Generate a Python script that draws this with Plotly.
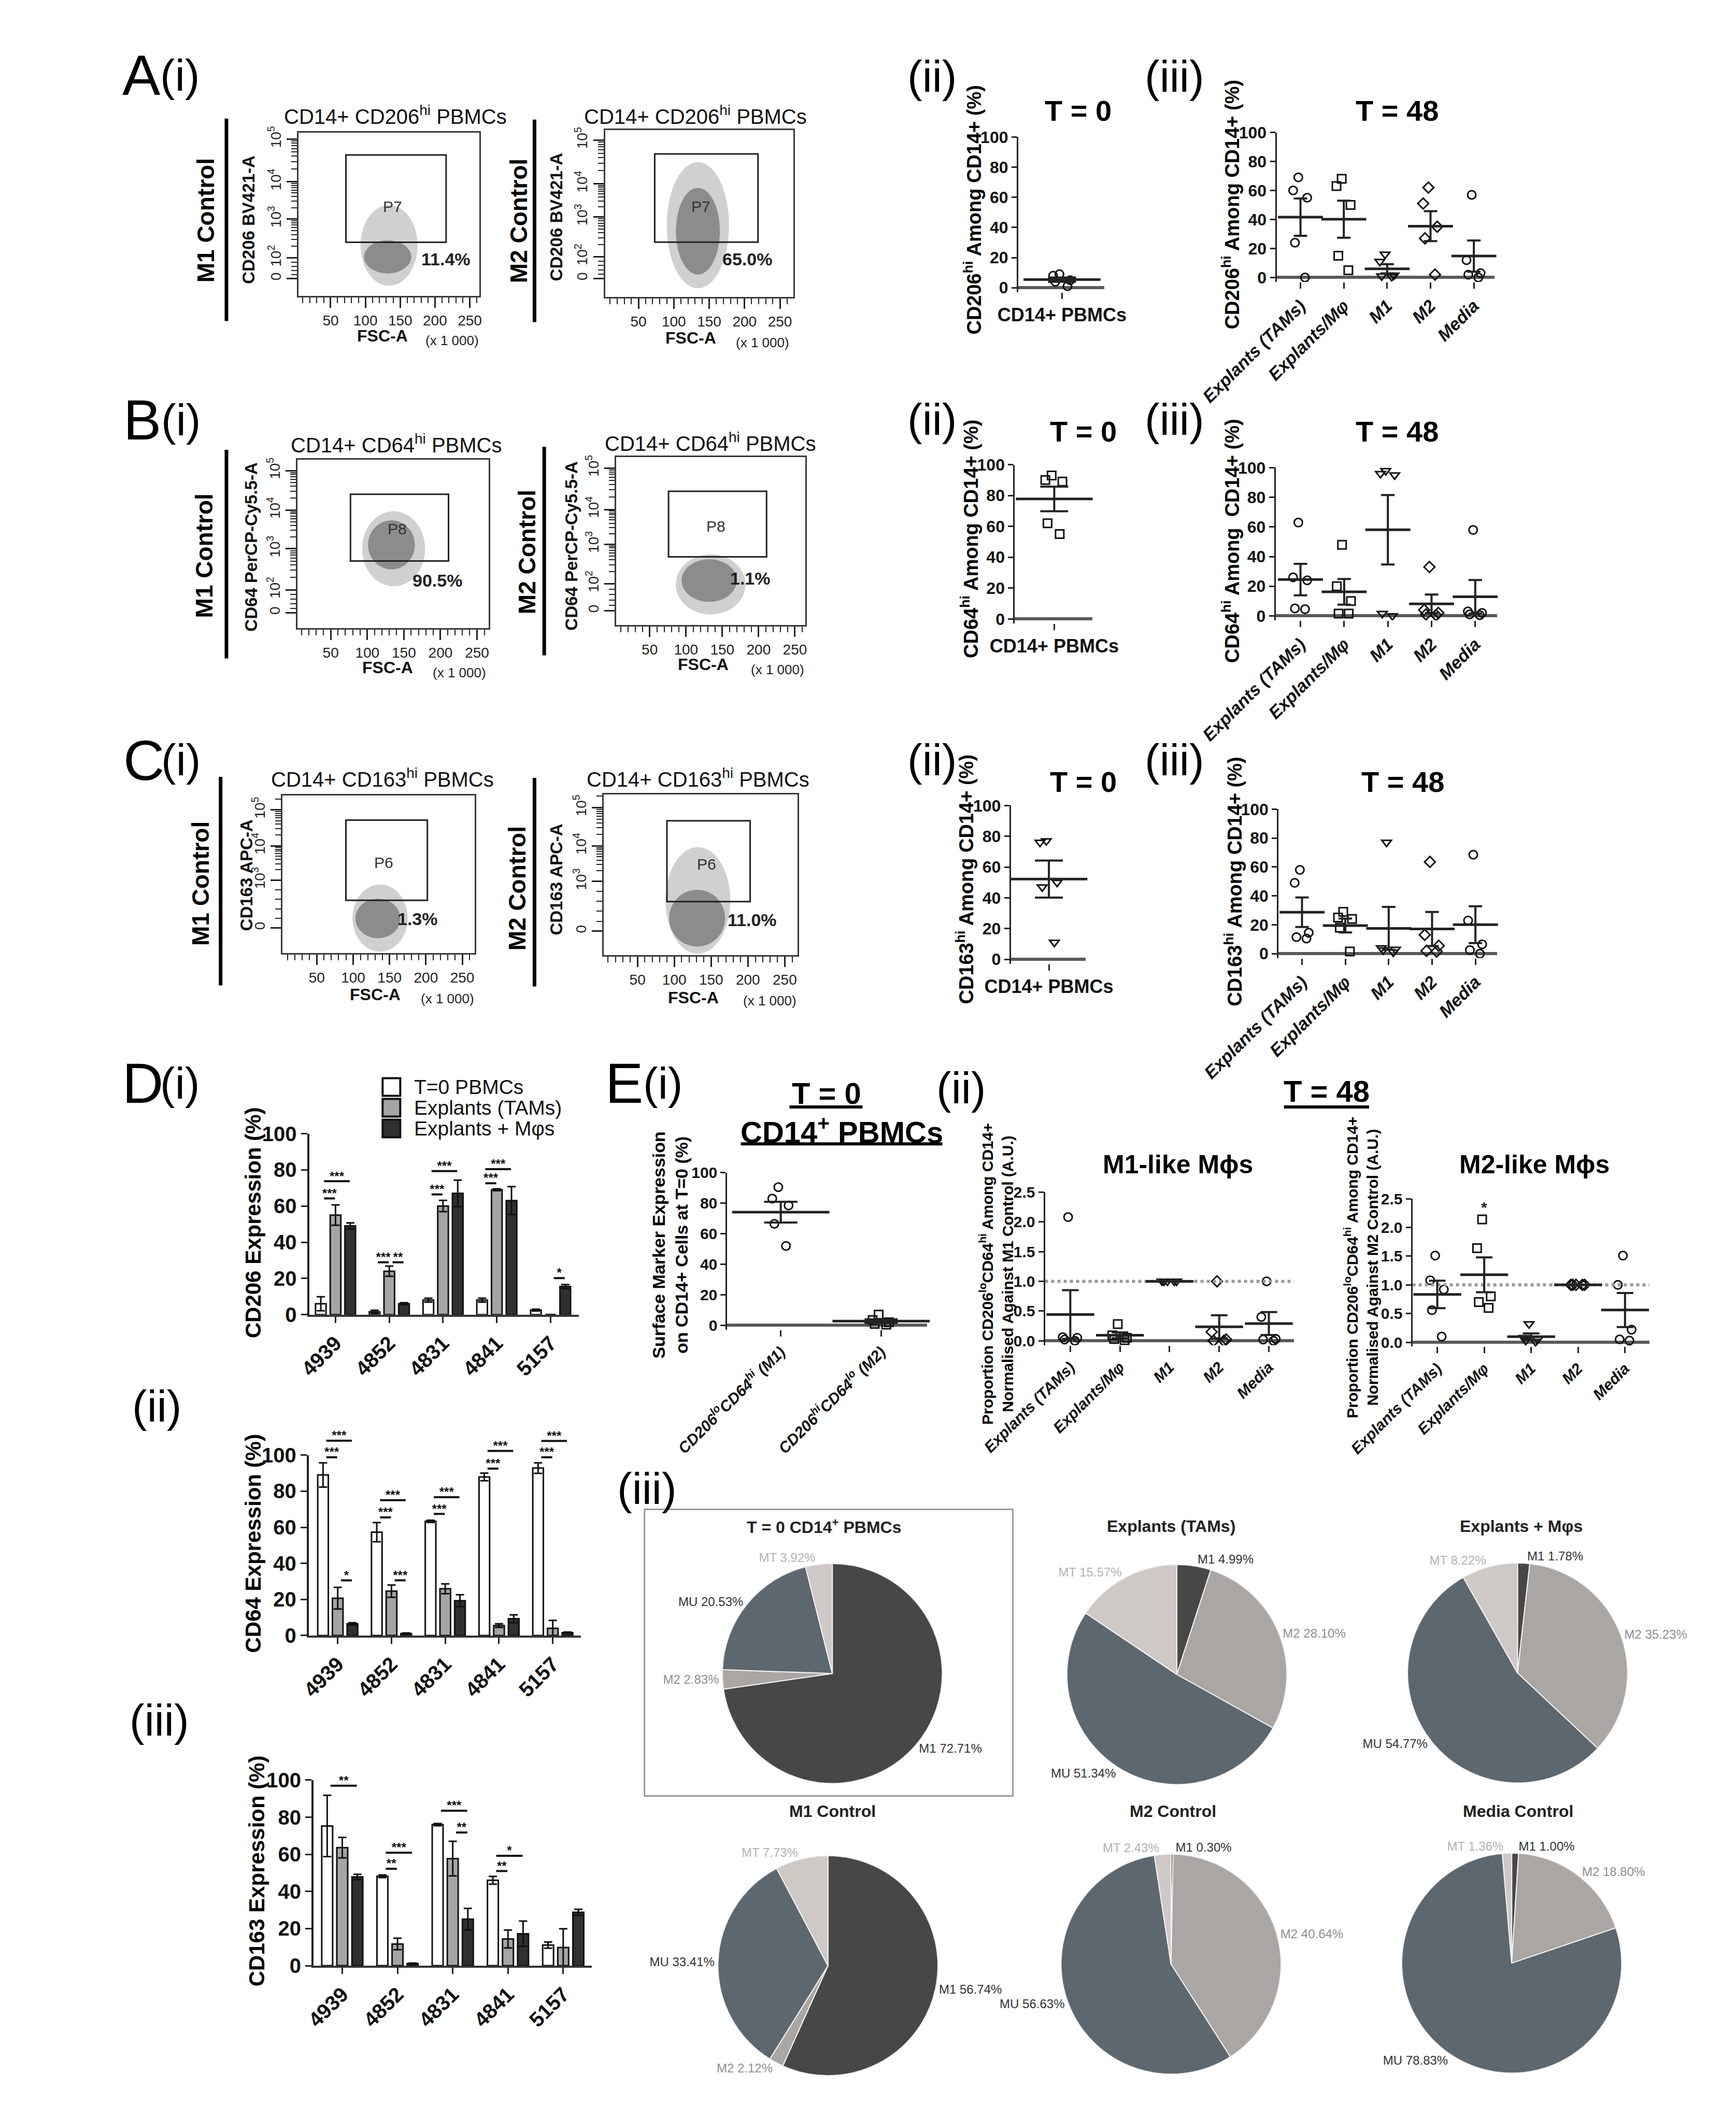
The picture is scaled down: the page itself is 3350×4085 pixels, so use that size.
import numpy as np
import plotly.graph_objects as go

W, H = 3350, 4085
F = "Liberation Sans, Arial, Helvetica, sans-serif"

# ============================ DATA ============================
# --- A-C (i): flow cytometry plots (y in display units of the biexponential axis)
FLOW_TITLES = ["CD14+ CD206<sup>hi</sup> PBMCs"] * 2 + ["CD14+ CD64<sup>hi</sup> PBMCs"] * 2 + ["CD14+ CD163<sup>hi</sup> PBMCs"] * 2
FLOW_CHANNELS = ["CD206 BV421-A"] * 2 + ["CD64 PerCP-Cy5.5-A"] * 2 + ["CD163 APC-A"] * 2
FLOW_CONTROLS = ["M1 Control", "M2 Control"] * 3
FLOW_GATE_NAMES = ["P7", "P7", "P8", "P8", "P6", "P6"]
FLOW_GATE_PCT = ["11.4%", "65.0%", "90.5%", "1.1%", "1.3%", "11.0%"]
FLOW_GATE_X0 = [72, 73, 77, 76, 90, 90]
FLOW_GATE_X1 = [216, 219, 211, 211, 202, 203]
FLOW_GATE_Y0 = [0.92, 0.92, 1.31, 1.37, 0.70, 0.75]
FLOW_GATE_Y1 = [3.13, 3.16, 3.00, 3.03, 2.73, 2.80]
FLOW_CORE_CX = [132, 134, 133, 132, 134, 131]
FLOW_CORE_CY = [0.55, 1.20, 1.72, 0.77, 0.24, 0.33]
FLOW_CORE_RX = [34, 31, 32, 38, 31, 38]
FLOW_CORE_RY = [0.42, 1.10, 0.62, 0.54, 0.50, 0.72]
FLOW_HALO_CX = [134, 134, 136, 134, 137, 132]
FLOW_HALO_CY = [0.84, 1.35, 1.62, 0.67, 0.25, 0.78]
FLOW_HALO_RX = [41, 44, 43, 48, 38, 44]
FLOW_HALO_RY = [1.02, 1.60, 0.95, 0.76, 0.85, 1.35]
FLOW_XTICKS = [50, 100, 150, 200, 250]
FLOW_YTICKVALS = [[0, 0.52, 1.51, 2.45, 3.53], [0, 0.55, 1.56, 2.40, 3.51],
                  [0, 0.58, 1.62, 2.60, 3.60], [0, 0.69, 1.69, 2.57, 3.62],
                  [0, 1.21, 2.08, 2.99], [0, 1.26, 2.16, 3.13]]
FLOW_YTICKTEXT_5 = ["0", "10<sup>2</sup>", "10<sup>3</sup>", "10<sup>4</sup>", "10<sup>5</sup>"]
FLOW_YTICKTEXT_4 = ["0", "10<sup>3</sup>", "10<sup>4</sup>", "10<sup>5</sup>"]

# --- A-C (ii): T = 0 CD14+ PBMCs (% hi among CD14+)
T0_CATEGORY = ["CD14+ PBMCs"]
T0_CD206 = [9, 8, 5, 4, 1]
T0_CD64 = [93, 90, 89, 62, 55]
T0_CD163 = [77, 76, 50, 47, 11]

# --- A-C (iii): T = 48
T48_CATEGORIES = ["Explants (TAMs)", "Explants/M\u03c6", "M1", "M2", "Media"]
T48_CD206 = [[69, 60, 55, 24, 0], [68, 63, 50, 15, 5], [16, 11, 1.5, 1, 0.5], [62, 51, 35, 27, 2], [57, 12, 3, 2, 0]]
T48_CD64 = [[63, 26, 24, 5, 4.5], [48, 20, 10, 1.5, 1.5], [98, 96, 95, 1.5, 0], [33, 4, 2, 1, 0.5], [58, 3, 2, 1, 0.5]]
T48_CD163 = [[58, 49, 14.5, 11.5, 10.5], [29, 25, 24, 18, 1.5], [77, 4, 3, 2.5, 1], [63.5, 13, 5.5, 2, 1.5], [68.5, 23, 6.5, 2.5, 0]]

# --- D: bar charts per patient
PATIENTS = ["4939", "4852", "4831", "4841", "5157"]
BAR_SERIES = ["T=0 PBMCs", "Explants (TAMs)", "Explants + M\u03c6s"]
CD206_MEAN = [[6, 1.5, 8, 8, 2.5], [55, 24, 60, 69, 0], [49, 6, 67, 63, 15.5]]
CD206_ERR = [[3.9, 0.9, 1.1, 1.1, 0.5], [5.6, 2.8, 3.1, 0.5, 0], [1.7, 0.6, 7.3, 7.7, 1.1]]
CD64_MEAN = [[89, 57.3, 63.3, 87.9, 92.8], [20.7, 24.6, 25.9, 5.5, 4.0], [6.5, 1.1, 19.3, 9.3, 1.6]]
CD64_ERR = [[6.7, 5.3, 0.6, 2.1, 2.9], [6.0, 3.4, 2.7, 1.0, 4.4], [0.6, 0.3, 3.3, 2.2, 0.3]]
CD163_MEAN = [[75.3, 48.2, 76, 46, 11.1], [63.6, 11.7, 57.7, 14.4, 9.8], [47.8, 1.1, 25.1, 17.2, 28.8]]
CD163_ERR = [[16.5, 0.7, 0.6, 2.1, 1.7], [5.5, 3.1, 9.3, 4.8, 10.1], [1.4, 0.3, 5.8, 6.8, 1.6]]
# significance: (patient index, bar i, bar j, height, stars)
CD206_SIG = [(0, 0, 1, 64.2, "***"), (0, 0, 2, 73.7, "***"), (1, 0, 1, 28.9, "***"), (1, 1, 2, 28.9, "**"),
             (2, 0, 1, 66.4, "***"), (2, 0, 2, 79.3, "***"), (3, 0, 1, 72.6, "***"), (3, 0, 2, 80.4, "***"),
             (4, 1, 2, 20.2, "*")]
CD64_SIG = [(0, 0, 1, 98.8, "***"), (0, 0, 2, 108, "***"), (0, 1, 2, 30.6, "*"), (1, 0, 1, 65.5, "***"),
            (1, 0, 2, 75, "***"), (1, 1, 2, 30.6, "***"), (2, 0, 1, 67.4, "***"), (2, 0, 2, 76.7, "***"),
            (3, 0, 1, 92.5, "***"), (3, 0, 2, 102.3, "***"), (4, 0, 1, 98.8, "***"), (4, 0, 2, 107.8, "***")]
CD163_SIG = [(0, 0, 2, 97, "**"), (1, 0, 1, 52.2, "**"), (1, 0, 2, 60.9, "***"), (2, 0, 2, 83.5, "***"),
             (2, 1, 2, 71.8, "**"), (3, 0, 1, 51, "**"), (3, 0, 2, 59.2, "*")]

# --- E(i): T = 0 surface marker expression
E1_CATEGORIES = ["CD206<sup>lo</sup>CD64<sup>hi</sup> (M1)", "CD206<sup>hi</sup>CD64<sup>lo</sup> (M2)"]
E1_VALUES = [[90.5, 83, 78.5, 66.5, 52], [7, 3.5, 2, 1, 0.5]]

# --- E(ii): normalised proportions at T = 48
E2_M1LIKE = [[2.08, 0.06, 0.05, 0.02, 0.0], [0.28, 0.09, 0.05, 0.03, 0.01], [1, 1, 1, 1, 1],
             [1.0, 0.15, 0.02, 0.0, 0.0], [1.0, 0.4, 0.03, 0.02, 0.0]]
E2_M2LIKE = [[1.51, 1.08, 0.92, 0.56, 0.1], [2.14, 1.64, 0.8, 0.7, 0.6], [0.32, 0.08, 0.05, 0.03, 0.01],
             [1, 1, 1, 1, 1], [1.51, 1.0, 0.22, 0.05, 0.03]]
E2_REFERENCE = 1.0
E2_M2LIKE_STAR = (1, 2.35, "*")

# --- E(iii): pies
PIE_TITLES = ["T = 0 CD14<sup>+</sup> PBMCs", "Explants (TAMs)", "Explants + M\u03c6s",
              "M1 Control", "M2 Control", "Media Control"]
PIE_LABELS = ["M1", "M2", "MU", "MT"]
PIE_VALUES = [[72.71, 2.83, 20.53, 3.92], [4.99, 28.10, 51.34, 15.57], [1.78, 35.23, 54.77, 8.22],
              [56.74, 2.12, 33.41, 7.73], [0.30, 40.64, 56.63, 2.43], [1.00, 18.80, 78.83, 1.36]]

# ============================ STYLE / LAYOUT ============================
FLOW_FRAME_PX = [(444, 816, 228, 547), (1074, 1461, 223, 549), (442, 835, 866, 1195),
                 (1097, 1485, 861, 1189), (411, 806, 1521, 1829), (1071, 1469, 1519, 1833)]
FLOW_XRANGE = [(3.8, 264), (2.8, 269), (4.6, 266), (4, 264), (2.7, 267), (4, 267)]
FLOW_YRANGE = [(-0.44, 3.70), (-0.47, 3.77), (-0.39, 3.88), (-0.36, 3.90), (-0.64, 3.36), (-0.61, 3.47)]
FLOW_TITLE_PX = [(643, 194), (1260, 194), (645, 835), (1291, 832), (617, 1487), (1265, 1487)]
FLOW_CTRL_PX = [(253, 400), (896, 400), (250, 1054), (913, 1046), (243, 1693), (893, 1703)]
FLOW_LINE_PX = [(296, 201, 596), (929, 203, 598), (296, 847, 1254), (949, 841, 1248), (284, 1485, 1892), (929, 1487, 1894)]
FLOW_CHAN_PX = [(342, 398), (974, 393), (347, 1037), (1005, 1035), (337, 1677), (974, 1685)]
FLOW_FSC_PX = [(617, 625), (1250, 629), (627, 1272), (1276, 1266), (602, 1910), (1255, 1916)]
FLOW_K_PX = [(760, 634), (1398, 638), (775, 1282), (1429, 1276), (750, 1918), (1413, 1922)]
FLOW_PLABEL_POS = [(139, 1.82), (138, 1.82), (141, 2.13), (141, 2.15), (142, 1.65), (144, 1.7)]
FLOW_PCT_POS = [(216, 0.49), (204, 0.49), (196, 0.82), (189, 0.82), (189, 0.23), (206, 0.28)]

BAR_COLORS = ["#ffffff", "#a5a5a5", "#303030"]
BARGAP, BARGROUPGAP = 0.18, 0.28
SIG_YMAX = 118
STAR_DY = 2.2
PIE_COLORS = ["#474747", "#aaa6a4", "#5d676f", "#cec9c7"]
PIE_TEXT_COLORS = ["#333333", "#8f8f8f", "#333333", "#b3b3b3"]
PIE_CENTERS = [(1541, 3234), (2249, 3236), (2949, 3233), (1532, 3804), (2237, 3801), (2937, 3799)]
PIE_R = 226
PIE_TITLE_PX = [(1524, 2947), (2237, 2947), (2957, 2947), (1541, 3503), (2241, 3503), (2950, 3503)]
HIDDEN_AXIS = dict(showticklabels=False, showline=False, ticks="", showgrid=False, zeroline=False)

traces, shapes, annots = [], [], []
lay = {}


def xr(n):
    return "x" if n == 1 else f"x{n}"


def yr(n):
    return "y" if n == 1 else f"y{n}"


def set_axes(n, xpx, ypx, xkw, ykw):
    xa = dict(domain=[xpx[0] / W, xpx[1] / W], anchor=yr(n), showgrid=False, zeroline=False)
    xa.update(xkw)
    ya = dict(domain=[1 - ypx[1] / H, 1 - ypx[0] / H], anchor=xr(n), showgrid=False, zeroline=False)
    ya.update(ykw)
    lay["xaxis" if n == 1 else f"xaxis{n}"] = xa
    lay["yaxis" if n == 1 else f"yaxis{n}"] = ya


def txt(s, x, y, size, color="black", angle=0, xanchor="center", yanchor="middle", family=F):
    annots.append(dict(text=s, x=x / W, y=1 - y / H, xref="paper", yref="paper", showarrow=False,
                       font=dict(family=family, size=size, color=color), textangle=angle,
                       xanchor=xanchor, yanchor=yanchor))


def pline(x0, y0, x1, y1, width, color="black"):
    shapes.append(dict(type="line", xref="paper", yref="paper", x0=x0 / W, x1=x1 / W,
                       y0=1 - y0 / H, y1=1 - y1 / H, line=dict(color=color, width=width)))


def panel_label(letter, roman, x, y):
    if letter:
        txt(letter, x, y, 110, xanchor="left")
        txt(roman, x + 78, y, 86, xanchor="left")
    else:
        txt(roman, x, y, 86, xanchor="left")


def log_minor(tv, top):
    out = []
    for k in range(1, 5):
        out.append(tv[0] + k * (tv[1] - tv[0]) / 5)
    for d in range(1, len(tv) - 1):
        a, b = tv[d], tv[d + 1]
        out += [a + np.log10(m) * (b - a) for m in range(2, 10)]
    step = tv[-1] - tv[-2]
    out += [tv[-1] + np.log10(m) * step for m in range(2, 10) if tv[-1] + np.log10(m) * step < top]
    return out


# ---------------- flow plots ----------------
for k in range(6):
    n = k + 1
    l, r, t, b = FLOW_FRAME_PX[k]
    yt = FLOW_YTICKVALS[k]
    ytt = FLOW_YTICKTEXT_5 if len(yt) == 5 else FLOW_YTICKTEXT_4
    set_axes(n, (l, r), (t, b),
             dict(range=list(FLOW_XRANGE[k]), tickvals=FLOW_XTICKS, ticks="outside", ticklen=20, tickwidth=3,
                  tickcolor="#222", showline=True, mirror=True, linecolor="#3a3a3a", linewidth=3,
                  minor=dict(tickmode="linear", tick0=0, dtick=10, ticks="outside", ticklen=11, tickwidth=2,
                             tickcolor="#222"),
                  tickfont=dict(family=F, size=28, color="#222")),
             dict(range=list(FLOW_YRANGE[k]), tickvals=yt, ticktext=ytt, tickangle=-90, ticks="outside",
                  ticklen=20, tickwidth=3, tickcolor="#222", showline=True, mirror=True, linecolor="#3a3a3a",
                  linewidth=3,
                  minor=dict(tickmode="array", tickvals=log_minor(yt, FLOW_YRANGE[k][1]), ticks="outside",
                             ticklen=11, tickwidth=2, tickcolor="#222"),
                  tickfont=dict(family=F, size=28, color="#222")))
    traces.append(go.Scatter(x=[], y=[], xaxis=xr(n), yaxis=yr(n), showlegend=False, hoverinfo="skip"))
    shapes.append(dict(type="circle", xref=xr(n), yref=yr(n), layer="below",
                       x0=FLOW_HALO_CX[k] - FLOW_HALO_RX[k], x1=FLOW_HALO_CX[k] + FLOW_HALO_RX[k],
                       y0=FLOW_HALO_CY[k] - FLOW_HALO_RY[k], y1=FLOW_HALO_CY[k] + FLOW_HALO_RY[k],
                       fillcolor="rgba(150,150,150,0.45)", line=dict(width=0)))
    shapes.append(dict(type="circle", xref=xr(n), yref=yr(n), layer="below",
                       x0=FLOW_CORE_CX[k] - FLOW_CORE_RX[k], x1=FLOW_CORE_CX[k] + FLOW_CORE_RX[k],
                       y0=FLOW_CORE_CY[k] - FLOW_CORE_RY[k], y1=FLOW_CORE_CY[k] + FLOW_CORE_RY[k],
                       fillcolor="#8c8c8c", line=dict(width=0)))
    shapes.append(dict(type="rect", xref=xr(n), yref=yr(n), x0=FLOW_GATE_X0[k], x1=FLOW_GATE_X1[k],
                       y0=FLOW_GATE_Y0[k], y1=FLOW_GATE_Y1[k], line=dict(color="#222", width=3)))
    px_, py_ = FLOW_PLABEL_POS[k]
    annots.append(dict(text=FLOW_GATE_NAMES[k], x=px_, y=py_, xref=xr(n), yref=yr(n), showarrow=False,
                       font=dict(family=F, size=30, color="#333")))
    px_, py_ = FLOW_PCT_POS[k]
    annots.append(dict(text="<b>" + FLOW_GATE_PCT[k] + "</b>", x=px_, y=py_, xref=xr(n), yref=yr(n),
                       showarrow=False, font=dict(family=F, size=34, color="#222")))
    txt(FLOW_TITLES[k], *FLOW_TITLE_PX[k], 40, color="#111")
    txt("<b>" + FLOW_CONTROLS[k] + "</b>", *FLOW_CTRL_PX[k], 46, angle=-90)
    lx, ly0, ly1 = FLOW_LINE_PX[k]
    pline(lx, ly0, lx, ly1, 7)
    txt("<b>" + FLOW_CHANNELS[k] + "</b>", *FLOW_CHAN_PX[k], 33, angle=-90, color="#111")
    txt("<b>FSC-A</b>", *FLOW_FSC_PX[k], 32, color="#111")
    txt("(x 1 000)", *FLOW_K_PX[k], 26, color="#222")

# ---------------- dot plots ----------------
def ydom_from(y0px, ytpx, vtop, r0, r1):
    s = (y0px - ytpx) / vtop
    return (ytpx - (r1 - vtop) * s, y0px + (0 - r0) * s)


DOT_CFG = {
    "A_T0": (7, 1923, 2100, (-1.0, 0.967), 531, 237, 100, (-3, 100)),
    "A_T48": (8, 2454, 2902, (-0.55, 4.48), 511, 228, 100, (-3, 100)),
    "B_T0": (9, 1916, 2075, (-0.9, 0.867), 1177, 876, 100, (-3, 100)),
    "B_T48": (10, 2452, 2907, (-0.568, 4.5), 1171, 882, 100, (-3, 100)),
    "C_T0": (11, 1908, 2062, (-0.867, 0.844), 1841, 1541, 100, (-3, 100)),
    "C_T48": (12, 2458, 2907, (-0.54, 4.5), 1830, 1548, 100, (-3, 100)),
    "E1": (16, 1325, 1736, (-0.534, 1.46), 2555, 2257, 100, (-3, 100)),
    "E2a": (17, 1978, 2490, (-0.51, 4.51), 2585, 2295, 2.5, (-0.075, 2.5)),
    "E2b": (18, 2733, 3220, (-0.53, 4.52), 2588, 2308, 2.5, (-0.075, 2.5)),
}
SYM5 = ["circle-open", "square-open", "triangle-down-open", "diamond-open", "circle-open"]


def dot_panel(key, ngroups, ticktext, xfont, xangle, yfont, ytick, yfmt):
    n, xl, xrr, xrange, y0px, ytpx, vtop, yrange = DOT_CFG[key]
    ypx = ydom_from(y0px, ytpx, vtop, *yrange)
    cats = list(range(ngroups))
    set_axes(n, (xl, xrr), ypx,
             dict(range=list(xrange), tickvals=cats, ticktext=ticktext, ticks="outside", ticklen=12,
                  tickwidth=3, tickcolor="#222", showline=False, tickangle=xangle, tickfont=xfont),
             dict(range=list(yrange), tickvals=ytick, tickformat=yfmt, ticks="outside", ticklen=10,
                  tickwidth=3, tickcolor="#222", showline=True, linecolor="#222", linewidth=3,
                  zeroline=True, zerolinecolor="#5a5a5a", zerolinewidth=6, tickfont=yfont))
    return n, cats


def add_points(n, cats, groups, symbols, mean_w, cap_w, box_w):
    for c, vals, sym in zip(cats, groups, symbols):
        traces.append(go.Box(x=[c] * len(vals), y=vals, boxpoints="all", jitter=0.8, pointpos=0, width=box_w,
                             fillcolor="rgba(0,0,0,0)", line=dict(color="rgba(0,0,0,0)", width=0),
                             whiskerwidth=0, marker=dict(symbol=sym, size=16, color="#111",
                                                         line=dict(width=3, color="#111")),
                             xaxis=xr(n), yaxis=yr(n), showlegend=False, hoverinfo="skip"))
    means = [float(np.mean(v)) for v in groups]
    sems = [float(np.std(v, ddof=1) / np.sqrt(len(v))) for v in groups]
    traces.append(go.Scatter(x=cats, y=means, mode="markers", cliponaxis=False,
                             marker=dict(symbol="line-ew", size=mean_w, color="#222",
                                         line=dict(width=5, color="#222")),
                             error_y=dict(type="data", array=sems, visible=True, color="#222", thickness=4,
                                          width=cap_w),
                             xaxis=xr(n), yaxis=yr(n), showlegend=False, hoverinfo="skip"))


YT100 = [0, 20, 40, 60, 80, 100]
bold32 = dict(family=F, size=32, color="#111", weight="bold")
t0font = dict(family=F, size=36, color="#111", weight="bold")
itfont = dict(family=F, size=34, color="#111", weight="bold", style="italic")

for key, data, sym in [("A_T0", T0_CD206, "circle-open"), ("B_T0", T0_CD64, "square-open"),
                       ("C_T0", T0_CD163, "triangle-down-open")]:
    n, cats = dot_panel(key, 1, T0_CATEGORY, t0font, 0, bold32, YT100, None)
    add_points(n, cats, [data], [sym], 106, 27, 0.6)
for key, data in [("A_T48", T48_CD206), ("B_T48", T48_CD64), ("C_T48", T48_CD163)]:
    n, cats = dot_panel(key, len(data), T48_CATEGORIES, itfont, -45, bold32, YT100, None)
    add_points(n, cats, data, SYM5, 62, 13, 0.5)

e_ytf = dict(family=F, size=30, color="#111", weight="bold")
e_xtf = dict(family=F, size=30, color="#111", weight="bold", style="italic")
n, cats = dot_panel("E1", len(E1_VALUES), E1_CATEGORIES, e_xtf, -45, e_ytf, YT100, None)
add_points(n, cats, E1_VALUES, ["circle-open", "square-open"], 134, 32, 0.25)
for key, data in [("E2a", E2_M1LIKE), ("E2b", E2_M2LIKE)]:
    n, cats = dot_panel(key, len(data), T48_CATEGORIES, e_xtf, -45, e_ytf,
                        [0, 0.5, 1.0, 1.5, 2.0, 2.5], ".1f")
    xrange = DOT_CFG[key][3]
    traces.append(go.Scatter(x=list(xrange), y=[E2_REFERENCE, E2_REFERENCE], mode="lines",
                             line=dict(color="#9a9a9a", width=6, dash="dot"),
                             xaxis=xr(n), yaxis=yr(n), showlegend=False, hoverinfo="skip"))
    add_points(n, cats, data, SYM5, 66, 16, 0.45)
annots.append(dict(text="<b>" + E2_M2LIKE_STAR[2] + "</b>", x=E2_M2LIKE_STAR[0], y=E2_M2LIKE_STAR[1],
                   xref="x18", yref="y18", showarrow=False, font=dict(family=F, size=30, color="#222")))

# dot-plot titles
for s, x, y in [("T = 0", 2046, 185), ("T = 48", 2702, 185), ("T = 0", 2057, 811), ("T = 48", 2702, 811),
                ("T = 0", 2057, 1495), ("T = 48", 2713, 1495)]:
    txt("<b>" + s + "</b>", x, y, 56)
for s, x, y in [("CD206<sup>hi</sup> Among CD14+ (%)", 1829, 379), ("CD206<sup>hi</sup> Among CD14+ (%)", 2360, 368),
                ("CD64<sup>hi</sup> Among CD14+ (%)", 1823, 1021), ("CD64<sup>hi</sup> Among  CD14+ (%)", 2360, 1025),
                ("CD163<sup>hi</sup> Among CD14+ (%)", 1813, 1685), ("CD163<sup>hi</sup> Among CD14+ (%)", 2365, 1689)]:
    txt("<b>" + s + "</b>", x, y, 38, angle=-90)

# ---------------- D: bar charts ----------------
D_CFG = [(13, 20, CD206_MEAN, CD206_ERR, CD206_SIG, (466, 1020), (-0.49, 4.525), (2181, 2534), "CD206 Expression (%)", (351, 2355)),
         (14, 21, CD64_MEAN, CD64_ERR, CD64_SIG, (465, 1024), (-0.54, 4.52), (2808, 3160), "CD64 Expression (%)", (351, 2981)),
         (15, 22, CD163_MEAN, CD163_ERR, CD163_SIG, (475, 1047), (-0.52, 4.52), (3442, 3804), "CD163 Expression (%)", (358, 3619))]
slot = (1 - BARGAP) / 3
BAR_OFF = [-slot, 0.0, slot]
for n, ns, means, errs, sigs, xpx, xrange, ypx, ytitle, tpos in D_CFG:
    idx = list(range(len(PATIENTS)))
    set_axes(n, xpx, ypx,
             dict(range=list(xrange), tickvals=idx, ticktext=PATIENTS, ticks="outside", ticklen=12, tickwidth=3,
                  tickcolor="#222", showline=True, linecolor="#333", linewidth=4, tickangle=-45,
                  tickfont=dict(family=F, size=40, color="#111", weight="bold")),
             dict(range=[0, 100], tickvals=YT100, ticks="outside", ticklen=12, tickwidth=3, tickcolor="#222",
                  showline=True, linecolor="#222", linewidth=4,
                  tickfont=dict(family=F, size=40, color="#111", weight="bold")))
    for s in range(3):
        traces.append(go.Bar(x=idx, y=means[s], name=BAR_SERIES[s],
                             marker=dict(color=BAR_COLORS[s], line=dict(color="#111", width=3)),
                             error_y=dict(type="data", array=errs[s], visible=True, color="#111", thickness=3,
                                          width=8),
                             xaxis=xr(n), yaxis=yr(n), showlegend=False, hoverinfo="skip"))
    # twin axes without decorations (same scale, taller) for significance brackets above 100 %
    y0px, y100px = ypx[1], ypx[0]
    sc = (y0px - y100px) / 100.0
    set_axes(ns, xpx, (y100px - (SIG_YMAX - 100) * sc, y0px),
             dict(range=list(xrange), **HIDDEN_AXIS), dict(range=[0, SIG_YMAX], **HIDDEN_AXIS))
    lx, ly, sx, sy, st = [], [], [], [], []
    for g, i, j, yv, stars in sigs:
        x0 = g + BAR_OFF[i] + 0.06
        x1 = g + BAR_OFF[j] - 0.01
        lx += [x0, x1, None]
        ly += [yv, yv, None]
        sx.append((x0 + x1) / 2)
        sy.append(yv + STAR_DY)
        st.append("<b>" + stars + "</b>")
    traces.append(go.Scatter(x=lx, y=ly, mode="lines", line=dict(color="#111", width=4), cliponaxis=False,
                             xaxis=xr(ns), yaxis=yr(ns), showlegend=False, hoverinfo="skip"))
    traces.append(go.Scatter(x=sx, y=sy, mode="text", text=st, textposition="middle center", cliponaxis=False,
                             textfont=dict(family=F, size=24, color="#111"),
                             xaxis=xr(ns), yaxis=yr(ns), showlegend=False, hoverinfo="skip"))
    txt("<b>" + ytitle + "</b>", *tpos, 42, angle=-90)

# D legend
set_axes(19, (600, 700), (2069.75, 2191.25), dict(range=[-0.35, 0.65], **HIDDEN_AXIS),
         dict(range=[2.5, -0.5], **HIDDEN_AXIS))
traces.append(go.Scatter(x=[0, 0, 0], y=list(range(len(BAR_SERIES))), mode="markers", cliponaxis=False,
                         marker=dict(symbol="square", size=34, color=BAR_COLORS, line=dict(color="#111", width=4)),
                         xaxis="x19", yaxis="y19", showlegend=False, hoverinfo="skip"))
for i, s in enumerate(BAR_SERIES):
    annots.append(dict(text=s, x=679 / W, y=i, xref="paper", yref="y19", showarrow=False, xanchor="left",
                       font=dict(family=F, size=39, color="#111")))

# ---------------- E headers ----------------
txt("<b>T = 0</b>", 1529, 2102, 58)
pline(1453, 2129, 1603, 2129, 6)
txt("<b>CD14<sup>+</sup> PBMCs</b>", 1560, 2174, 58)
pline(1353, 2201, 1767, 2201, 6)
txt("<b>T = 48</b>", 2557, 2098, 58)
pline(2469, 2129, 2644, 2129, 6)
txt("<b>M1-like M\u03d5s</b>", 2251, 2241, 50)
txt("<b>M2-like M\u03d5s</b>", 2984, 2241, 50)
txt("<b>Surface Marker Expression<br>on CD14+ Cells at T=0 (%)</b>", 1208, 2398, 34, angle=-90)
txt("<b>Proportion CD206<sup>lo</sup>CD64<sup>hi</sup> Among CD14+<br>Normalised Against M1 Control (A.U.)</b>",
    1878, 2455, 30, angle=-90)
txt("<b>Proportion CD206<sup>lo</sup>CD64<sup>hi</sup> Among CD14+<br>Normalised Against M2 Control (A.U.)</b>",
    2628, 2442, 30, angle=-90)

# ---------------- E(iii) pies ----------------
for k in range(6):
    cx, cy = PIE_CENTERS[k]
    traces.append(go.Pie(values=PIE_VALUES[k], labels=PIE_LABELS, sort=False, direction="clockwise", rotation=0,
                         domain=dict(x=[(cx - PIE_R) / W, (cx + PIE_R) / W],
                                     y=[1 - (cy + PIE_R) / H, 1 - (cy - PIE_R) / H]),
                         textposition="outside", texttemplate="%{label} %{value:.2f}%",
                         outsidetextfont=dict(family=F, size=24, color=PIE_TEXT_COLORS),
                         marker=dict(colors=PIE_COLORS, line=dict(color="#f2f2f2", width=2)),
                         showlegend=False, hoverinfo="skip"))
    txt("<b>" + PIE_TITLES[k] + "</b>", *PIE_TITLE_PX[k], 32, color="#222")
shapes.append(dict(type="rect", xref="paper", yref="paper", x0=1155 / W, x1=1912 / W,
                   y0=1 - 3473 / H, y1=1 - 2914 / H, line=dict(color="#9a9a9a", width=3)))

# ---------------- panel labels ----------------
panel_label("A", "(i)", 80, 116)
panel_label("B", "(i)", 82, 788)
panel_label("C", "(i)", 82, 1452)
panel_label("D", "(i)", 80, 2082)
panel_label("E", "(i)", 1072, 2082)
panel_label(None, "(ii)", 1693, 118)
panel_label(None, "(iii)", 2181, 118)
panel_label(None, "(ii)", 1693, 787)
panel_label(None, "(iii)", 2181, 787)
panel_label(None, "(ii)", 1693, 1452)
panel_label(None, "(iii)", 2181, 1452)
panel_label(None, "(ii)", 100, 2712)
panel_label(None, "(iii)", 95, 3325)
panel_label(None, "(ii)", 1753, 2092)
panel_label(None, "(iii)", 1097, 2873)

fig = go.Figure(data=traces)
fig.update_layout(**lay)
fig.update_layout(width=W, height=H, margin=dict(l=0, r=0, t=0, b=0), paper_bgcolor="white",
                  plot_bgcolor="rgba(0,0,0,0)", barmode="group", bargap=BARGAP, bargroupgap=BARGROUPGAP,
                  font=dict(family=F, color="#111"), shapes=shapes, annotations=annots, showlegend=False)
fig.write_html("out.html")
